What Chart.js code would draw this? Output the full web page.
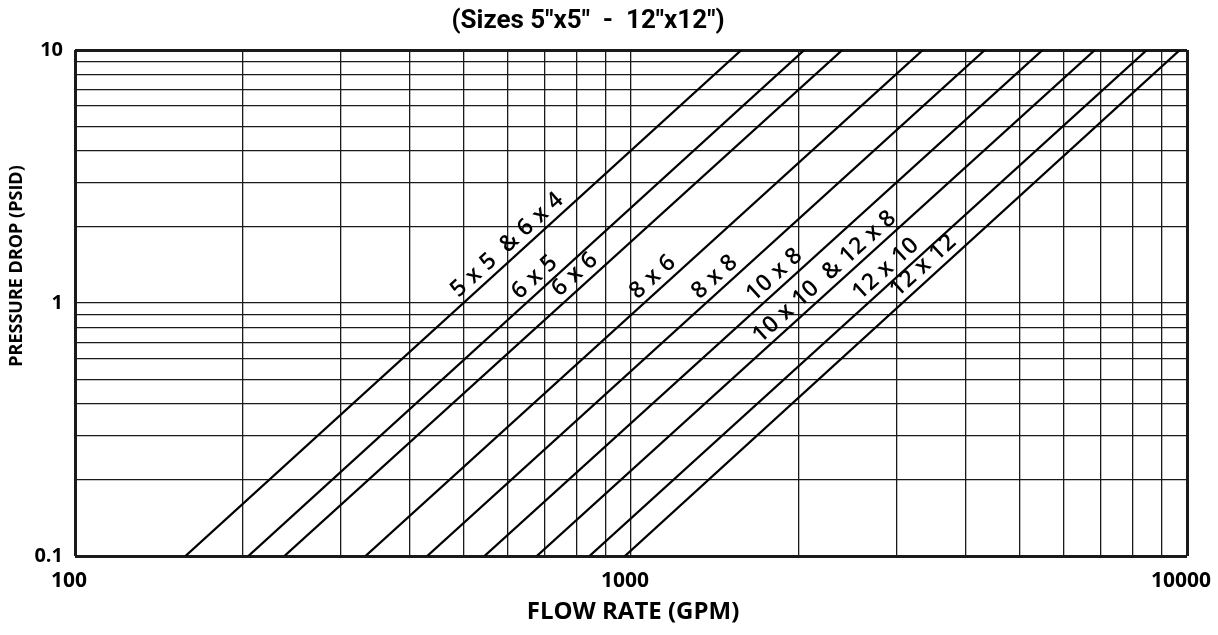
<!DOCTYPE html>
<html><head><meta charset="utf-8">
<script src="https://cdn.jsdelivr.net/npm/chart.js@4.4.1/dist/chart.umd.min.js"></script>
<style>html,body{margin:0;padding:0;background:#fff;} #wrap{width:1218px;height:635px;} canvas{display:block;}</style>
</head><body><div id="wrap"><canvas id="c" width="1218" height="635"></canvas></div>
<script>
// ---- data ----
const chartTitle = '(Sizes 5"x5"  -  12"x12")';
const xAxisTitle = 'FLOW RATE (GPM)';
const yAxisTitle = 'PRESSURE DROP (PSID)';
const seriesNames = ['5 x 5  & 6 x 4', '6 x 5', '6 x 6', '8 x 6', '8 x 8', '10 x 8', '10 x 10  & 12 x 8', '12 x 10', '12 x 12'];
const pressureEnds = [0.1, 10];
const flowAtMinDrop = [158, 205, 238, 333, 430, 545, 677, 842, 975];
const flowAtMaxDrop = [1580, 2050, 2400, 3350, 4330, 5500, 6830, 8470, 9710];
const labelFlows = [622, 697, 823, 1137, 1469, 1881, 2315, 2983, 3483];
const xGridValues = [100,200,300,400,500,600,700,800,900,1000,2000,3000,4000,5000,6000,7000,8000,9000,10000];
const yGridValues = [0.1,0.2,0.3,0.4,0.5,0.6,0.7,0.8,0.9,1,2,3,4,5,6,7,8,9,10];
const xLabelValues = [100, 1000, 10000];
const yLabelValues = [0.1, 1, 10];

const FONT = '"Open Sans", "DejaVu Sans", sans-serif';

const textPlugin = {
  id: 'texts',
  afterDatasetsDraw(chart) {
    const c = chart.ctx, xs = chart.scales.x, ys = chart.scales.y;
    c.save();
    c.fillStyle = '#000';
    c.textAlign = 'center';
    c.textBaseline = 'middle';
    c.font = '600 23px ' + FONT;
    if ('letterSpacing' in c) c.letterSpacing = '0.5px';
    seriesNames.forEach((name, i) => {
      const x0 = xs.getPixelForValue(flowAtMinDrop[i]), y0 = ys.getPixelForValue(pressureEnds[0]);
      const x1 = xs.getPixelForValue(flowAtMaxDrop[i]), y1 = ys.getPixelForValue(pressureEnds[1]);
      const ang = Math.atan2(y1 - y0, x1 - x0);
      const t = (Math.log10(labelFlows[i]) - Math.log10(flowAtMinDrop[i])) / (Math.log10(flowAtMaxDrop[i]) - Math.log10(flowAtMinDrop[i]));
      const px = x0 + t * (x1 - x0), py = y0 + t * (y1 - y0);
      const off = 13.5;
      const nx = Math.sin(ang) * off, ny = -Math.cos(ang) * off;
      c.save();
      c.translate(px + nx, py + ny);
      c.rotate(ang);
      c.fillText(name, 0, 0);
      c.restore();
    });
    if ('letterSpacing' in c) c.letterSpacing = '0px';
    // titles
    c.font = 'bold 26px Roboto, ' + FONT;
    c.fillText(chartTitle, 588, 21);
    c.font = 'bold 24px ' + FONT;
    c.fillText(xAxisTitle, 633, 612);
    c.save();
    c.translate(17, 266);
    c.rotate(-Math.PI / 2);
    c.font = 'bold 18px ' + FONT;
    c.fillText(yAxisTitle, 0, 0);
    c.restore();
    c.restore();
  }
};

const edgeWidth = (vals) => (ctx) => {
  const v = ctx.tick ? ctx.tick.value : null;
  return (v === vals[0] || v === vals[vals.length - 1]) ? 3 : 1.3;
};

new Chart(document.getElementById('c').getContext('2d'), {
  type: 'line',
  data: {
    datasets: seriesNames.map((n, i) => ({
      label: n,
      data: [{x: flowAtMinDrop[i], y: pressureEnds[0]}, {x: flowAtMaxDrop[i], y: pressureEnds[1]}],
      borderColor: '#000', borderWidth: 2.3, pointRadius: 0, fill: false, tension: 0
    }))
  },
  options: {
    responsive: false, animation: false, devicePixelRatio: 1,
    layout: {padding: {top: 50, right: 31, left: 0, bottom: 0}},
    plugins: {legend: {display: false}, tooltip: {enabled: false}, title: {display: false}},
    scales: {
      x: {
        type: 'logarithmic', min: 100, max: 10000,
        afterBuildTicks: s => { s.ticks = xGridValues.map(v => ({value: v})); },
        afterFit: s => { s.height = 79; s.paddingLeft = 0; s.paddingRight = 0; },
        ticks: {autoSkip: false, maxRotation: 0, minRotation: 0, padding: 12, labelOffset: -6, color: '#000',
          font: {family: FONT, weight: 'bold', size: 21},
          callback: v => xLabelValues.includes(v) ? String(v) : ''},
        grid: {drawTicks: false, color: '#1a1a1a', lineWidth: edgeWidth(xGridValues)},
        border: {display: false}
      },
      y: {
        type: 'logarithmic', min: 0.1, max: 10,
        afterBuildTicks: s => { s.ticks = yGridValues.map(v => ({value: v})); },
        afterFit: s => { s.width = 75; s.paddingTop = 0; s.paddingBottom = 0; },
        ticks: {autoSkip: false, padding: 12, color: '#000',
          font: {family: FONT, weight: 'bold', size: 20},
          callback: v => yLabelValues.includes(v) ? String(v) : ''},
        grid: {drawTicks: false, color: '#1a1a1a', lineWidth: edgeWidth(yGridValues)},
        border: {display: false}
      }
    }
  },
  plugins: [textPlugin]
});
</script></body></html>
